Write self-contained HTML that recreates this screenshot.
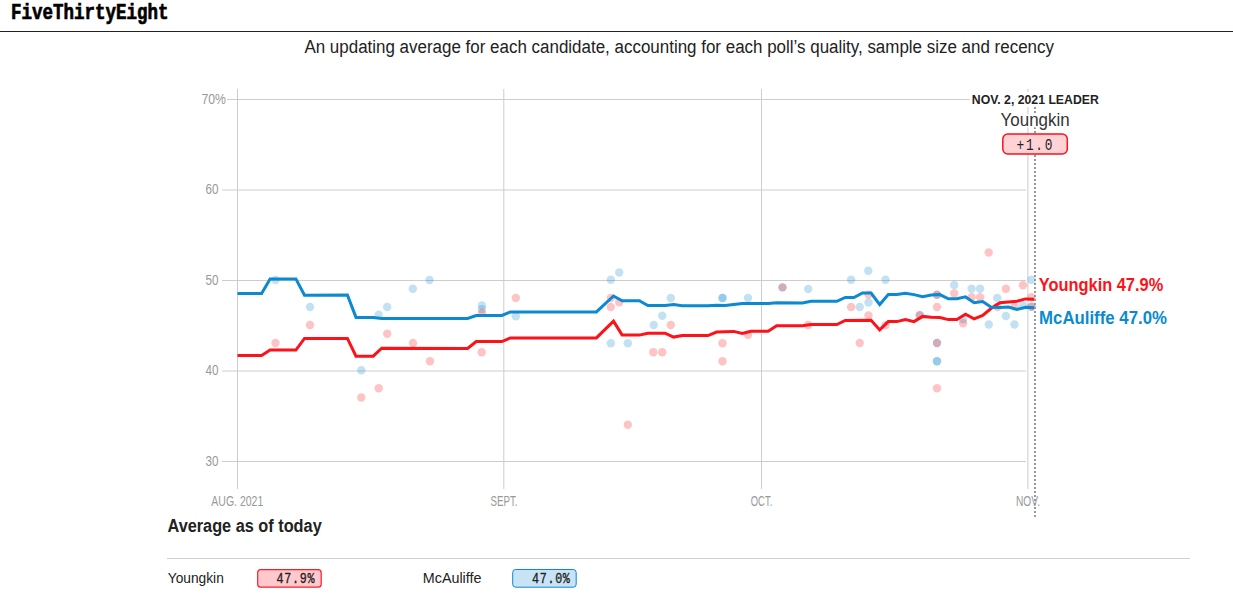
<!DOCTYPE html>
<html><head><meta charset="utf-8"><title>Virginia governor polls</title>
<style>html,body{margin:0;padding:0;background:#fff;width:1233px;height:600px;overflow:hidden;position:relative;font-family:"Liberation Sans",sans-serif}</style>
</head><body>
<svg width="1233" height="600" viewBox="0 0 1233 600" style="position:absolute;left:0;top:0">
<text x="11" y="19" font-family="Liberation Mono" font-weight="bold" font-size="22" fill="#000" stroke="#000" stroke-width="0.7" textLength="157.5" lengthAdjust="spacingAndGlyphs">FiveThirtyEight</text>
<rect x="0" y="31" width="1233" height="1" fill="#222"/>
<text x="304.4" y="53" font-family="Liberation Sans" font-size="18" fill="#222" textLength="749.6" lengthAdjust="spacingAndGlyphs">An updating average for each candidate, accounting for each poll’s quality, sample size and recency</text>
<line x1="227" y1="99.5" x2="1026" y2="99.5" stroke="#cdcdcd" stroke-width="1"/><line x1="222" y1="190" x2="1026" y2="190" stroke="#cdcdcd" stroke-width="1"/><line x1="222" y1="280.5" x2="1026" y2="280.5" stroke="#cdcdcd" stroke-width="1"/><line x1="222" y1="371" x2="1026" y2="371" stroke="#cdcdcd" stroke-width="1"/><line x1="222" y1="461.5" x2="1026" y2="461.5" stroke="#cdcdcd" stroke-width="1"/><line x1="237.5" y1="89" x2="237.5" y2="489" stroke="#cdcdcd" stroke-width="1"/><line x1="503.8" y1="89" x2="503.8" y2="489" stroke="#cdcdcd" stroke-width="1"/><line x1="761.5" y1="89" x2="761.5" y2="489" stroke="#cdcdcd" stroke-width="1"/><line x1="1027.9" y1="89" x2="1027.9" y2="489" stroke="#cdcdcd" stroke-width="1"/>
<text x="226" y="104" text-anchor="end" font-family="Liberation Sans" fill="#999" font-size="14.5" textLength="24.5" lengthAdjust="spacingAndGlyphs">70%</text><text x="218.5" y="194" text-anchor="end" font-family="Liberation Sans" fill="#999" font-size="14.5" textLength="13" lengthAdjust="spacingAndGlyphs">60</text><text x="218.5" y="284.5" text-anchor="end" font-family="Liberation Sans" fill="#999" font-size="14.5" textLength="13" lengthAdjust="spacingAndGlyphs">50</text><text x="218.5" y="375" text-anchor="end" font-family="Liberation Sans" fill="#999" font-size="14.5" textLength="13" lengthAdjust="spacingAndGlyphs">40</text><text x="218.5" y="465.5" text-anchor="end" font-family="Liberation Sans" fill="#999" font-size="14.5" textLength="13" lengthAdjust="spacingAndGlyphs">30</text>
<text x="237.3" y="506" text-anchor="middle" font-family="Liberation Sans" fill="#999" font-size="14.5" textLength="52" lengthAdjust="spacingAndGlyphs">AUG. 2021</text><text x="504" y="506" text-anchor="middle" font-family="Liberation Sans" fill="#999" font-size="14.5" textLength="27" lengthAdjust="spacingAndGlyphs">SEPT.</text><text x="761.5" y="506" text-anchor="middle" font-family="Liberation Sans" fill="#999" font-size="14.5" textLength="21.5" lengthAdjust="spacingAndGlyphs">OCT.</text><text x="1028" y="506" text-anchor="middle" font-family="Liberation Sans" fill="#999" font-size="14.5" textLength="24" lengthAdjust="spacingAndGlyphs">NOV.</text>
<circle cx="275.5" cy="280" r="4.2" fill="#0b89d1" fill-opacity="0.25"/><circle cx="310" cy="307" r="4.2" fill="#0b89d1" fill-opacity="0.25"/><circle cx="361.3" cy="370.3" r="4.2" fill="#0b89d1" fill-opacity="0.25"/><circle cx="378.7" cy="314.7" r="4.2" fill="#0b89d1" fill-opacity="0.25"/><circle cx="387.2" cy="307" r="4.2" fill="#0b89d1" fill-opacity="0.25"/><circle cx="412.8" cy="288.7" r="4.2" fill="#0b89d1" fill-opacity="0.25"/><circle cx="429.5" cy="280" r="4.2" fill="#0b89d1" fill-opacity="0.25"/><circle cx="481.9" cy="305.5" r="4.2" fill="#0b89d1" fill-opacity="0.25"/><circle cx="481.9" cy="309.2" r="4.2" fill="#0b89d1" fill-opacity="0.25"/><circle cx="515.8" cy="316.2" r="4.2" fill="#0b89d1" fill-opacity="0.25"/><circle cx="610.8" cy="279.7" r="4.2" fill="#0b89d1" fill-opacity="0.25"/><circle cx="619.2" cy="272.5" r="4.2" fill="#0b89d1" fill-opacity="0.25"/><circle cx="610.8" cy="343.3" r="4.2" fill="#0b89d1" fill-opacity="0.25"/><circle cx="627.8" cy="343.3" r="4.2" fill="#0b89d1" fill-opacity="0.25"/><circle cx="653.7" cy="325" r="4.2" fill="#0b89d1" fill-opacity="0.25"/><circle cx="662.2" cy="315.8" r="4.2" fill="#0b89d1" fill-opacity="0.25"/><circle cx="670.8" cy="298" r="4.2" fill="#0b89d1" fill-opacity="0.25"/><circle cx="722.5" cy="298" r="4.2" fill="#0b89d1" fill-opacity="0.25"/><circle cx="722.5" cy="298" r="4.2" fill="#0b89d1" fill-opacity="0.25"/><circle cx="748" cy="298" r="4.2" fill="#0b89d1" fill-opacity="0.25"/><circle cx="808.2" cy="289" r="4.2" fill="#0b89d1" fill-opacity="0.25"/><circle cx="851.1" cy="279.7" r="4.2" fill="#0b89d1" fill-opacity="0.25"/><circle cx="868.3" cy="270.8" r="4.2" fill="#0b89d1" fill-opacity="0.25"/><circle cx="885.5" cy="279.7" r="4.2" fill="#0b89d1" fill-opacity="0.25"/><circle cx="859.7" cy="307" r="4.2" fill="#0b89d1" fill-opacity="0.25"/><circle cx="868.5" cy="302.5" r="4.2" fill="#0b89d1" fill-opacity="0.25"/><circle cx="782.5" cy="287.4" r="4.2" fill="#0b89d1" fill-opacity="0.25"/><circle cx="937" cy="294.8" r="4.2" fill="#0b89d1" fill-opacity="0.25"/><circle cx="919.8" cy="315.2" r="4.2" fill="#0b89d1" fill-opacity="0.25"/><circle cx="937" cy="343" r="4.2" fill="#0b89d1" fill-opacity="0.25"/><circle cx="937" cy="361.2" r="4.2" fill="#0b89d1" fill-opacity="0.25"/><circle cx="937" cy="361.2" r="4.2" fill="#0b89d1" fill-opacity="0.25"/><circle cx="954.2" cy="285" r="4.2" fill="#0b89d1" fill-opacity="0.25"/><circle cx="963.1" cy="319.4" r="4.2" fill="#0b89d1" fill-opacity="0.25"/><circle cx="971.6" cy="288.8" r="4.2" fill="#0b89d1" fill-opacity="0.25"/><circle cx="980.1" cy="288.8" r="4.2" fill="#0b89d1" fill-opacity="0.25"/><circle cx="988.8" cy="324.5" r="4.2" fill="#0b89d1" fill-opacity="0.25"/><circle cx="997.3" cy="297.9" r="4.2" fill="#0b89d1" fill-opacity="0.25"/><circle cx="1005.9" cy="316" r="4.2" fill="#0b89d1" fill-opacity="0.25"/><circle cx="1014.5" cy="324.5" r="4.2" fill="#0b89d1" fill-opacity="0.25"/><circle cx="1023" cy="305.3" r="4.2" fill="#0b89d1" fill-opacity="0.25"/><circle cx="1031.5" cy="279.8" r="4.2" fill="#0b89d1" fill-opacity="0.25"/><circle cx="1031.5" cy="306.8" r="4.2" fill="#0b89d1" fill-opacity="0.25"/><circle cx="275.5" cy="343" r="4.2" fill="#fd1219" fill-opacity="0.25"/><circle cx="310" cy="325" r="4.2" fill="#fd1219" fill-opacity="0.25"/><circle cx="361.3" cy="397.5" r="4.2" fill="#fd1219" fill-opacity="0.25"/><circle cx="378.7" cy="388.3" r="4.2" fill="#fd1219" fill-opacity="0.25"/><circle cx="387.2" cy="333.8" r="4.2" fill="#fd1219" fill-opacity="0.25"/><circle cx="413" cy="343" r="4.2" fill="#fd1219" fill-opacity="0.25"/><circle cx="430" cy="361.3" r="4.2" fill="#fd1219" fill-opacity="0.25"/><circle cx="481.9" cy="313" r="4.2" fill="#fd1219" fill-opacity="0.25"/><circle cx="481.7" cy="352.2" r="4.2" fill="#fd1219" fill-opacity="0.25"/><circle cx="515.8" cy="298" r="4.2" fill="#fd1219" fill-opacity="0.25"/><circle cx="610.8" cy="298" r="4.2" fill="#fd1219" fill-opacity="0.25"/><circle cx="619.2" cy="302.2" r="4.2" fill="#fd1219" fill-opacity="0.25"/><circle cx="610.8" cy="307" r="4.2" fill="#fd1219" fill-opacity="0.25"/><circle cx="627.8" cy="424.7" r="4.2" fill="#fd1219" fill-opacity="0.25"/><circle cx="653.3" cy="352.2" r="4.2" fill="#fd1219" fill-opacity="0.25"/><circle cx="662.2" cy="352.2" r="4.2" fill="#fd1219" fill-opacity="0.25"/><circle cx="670.8" cy="325" r="4.2" fill="#fd1219" fill-opacity="0.25"/><circle cx="722.5" cy="343.3" r="4.2" fill="#fd1219" fill-opacity="0.25"/><circle cx="722.5" cy="361.3" r="4.2" fill="#fd1219" fill-opacity="0.25"/><circle cx="748" cy="334.8" r="4.2" fill="#fd1219" fill-opacity="0.25"/><circle cx="782.5" cy="287.4" r="4.2" fill="#fd1219" fill-opacity="0.25"/><circle cx="808.2" cy="325" r="4.2" fill="#fd1219" fill-opacity="0.25"/><circle cx="851.1" cy="307" r="4.2" fill="#fd1219" fill-opacity="0.25"/><circle cx="859.7" cy="343" r="4.2" fill="#fd1219" fill-opacity="0.25"/><circle cx="868.5" cy="294.6" r="4.2" fill="#fd1219" fill-opacity="0.25"/><circle cx="868.5" cy="315.5" r="4.2" fill="#fd1219" fill-opacity="0.25"/><circle cx="885.6" cy="325.2" r="4.2" fill="#fd1219" fill-opacity="0.25"/><circle cx="919.8" cy="315.2" r="4.2" fill="#fd1219" fill-opacity="0.25"/><circle cx="937" cy="294.8" r="4.2" fill="#fd1219" fill-opacity="0.25"/><circle cx="937" cy="307" r="4.2" fill="#fd1219" fill-opacity="0.25"/><circle cx="937" cy="343" r="4.2" fill="#fd1219" fill-opacity="0.25"/><circle cx="937" cy="388.3" r="4.2" fill="#fd1219" fill-opacity="0.25"/><circle cx="954.2" cy="293.4" r="4.2" fill="#fd1219" fill-opacity="0.25"/><circle cx="963.1" cy="323.2" r="4.2" fill="#fd1219" fill-opacity="0.25"/><circle cx="971.6" cy="297.3" r="4.2" fill="#fd1219" fill-opacity="0.25"/><circle cx="980.1" cy="297.3" r="4.2" fill="#fd1219" fill-opacity="0.25"/><circle cx="988.7" cy="252.5" r="4.2" fill="#fd1219" fill-opacity="0.25"/><circle cx="997.3" cy="307" r="4.2" fill="#fd1219" fill-opacity="0.25"/><circle cx="1005.9" cy="288.8" r="4.2" fill="#fd1219" fill-opacity="0.25"/><circle cx="1014.5" cy="306.6" r="4.2" fill="#fd1219" fill-opacity="0.25"/><circle cx="1023" cy="285.2" r="4.2" fill="#fd1219" fill-opacity="0.25"/><circle cx="1031.5" cy="297.3" r="4.2" fill="#fd1219" fill-opacity="0.25"/><circle cx="1031.5" cy="306.8" r="4.2" fill="#fd1219" fill-opacity="0.25"/>
<polyline points="237.5,355.5 261.6,355.5 270.1,350.1 295.9,350.1 304.5,338.4 347.4,338.4 356.0,356.2 373.2,356.2 381.7,348.2 467.6,348.4 476.2,341.6 501.9,341.6 510.5,337.9 596.4,337.9 613.5,321.2 622.1,334.9 639.3,335.1 647.9,333.2 665.1,333.2 673.6,337.1 682.2,335.6 708.0,335.6 716.6,332.0 733.7,331.4 742.3,333.4 750.9,331.2 768.1,331.2 776.7,325.7 802.4,325.8 811.0,324.5 836.8,324.5 845.3,320.5 871.1,320.2 879.7,329.9 888.3,321.6 896.8,321.6 905.4,319.6 914.0,321.6 922.6,316.4 931.2,317.2 939.8,317.6 948.4,319.6 956.9,319.6 965.5,314.2 974.1,318.9 982.7,315.5 991.3,308.3 999.9,302.8 1008.5,301.9 1017.0,301.2 1025.6,298.9 1034.2,299.2" fill="none" stroke="#fd1219" stroke-width="3" stroke-linejoin="miter" stroke-miterlimit="10"/>
<polyline points="237.5,293.6 261.6,293.6 270.1,278.9 295.9,278.9 304.5,295.2 347.4,294.9 356.0,317.4 373.2,317.4 381.7,318.5 467.6,318.5 476.2,315.5 501.9,315.5 510.5,311.9 596.4,311.9 613.5,296.0 622.1,300.7 639.3,300.7 647.9,305.5 665.1,305.5 673.6,304.5 682.2,305.7 708.0,305.7 716.6,305.3 725.1,305.4 742.3,303.4 768.1,303.4 776.7,302.7 802.4,302.9 811.0,301.3 836.8,301.3 845.3,297.5 853.9,297.5 862.5,293.0 871.1,293.0 879.7,304.6 888.3,294.6 896.8,294.6 905.4,293.2 914.0,294.6 922.6,296.8 931.2,295.0 939.8,294.6 948.4,298.8 956.9,298.8 965.5,296.9 974.1,302.7 982.7,301.5 991.3,307.2 999.9,307.5 1008.5,307.0 1017.0,309.5 1025.6,307.2 1034.2,307.7" fill="none" stroke="#0b89d1" stroke-width="3" stroke-linejoin="miter" stroke-miterlimit="10"/>
<path d="M1035 107V114M1035 127V134M1035 155V518" stroke="#999" stroke-width="2" stroke-dasharray="2 2"/>
<text x="971.8" y="103.8" font-family="Liberation Sans" font-weight="bold" font-size="12.3" fill="#222" stroke="#fff" stroke-width="6" stroke-linejoin="round" paint-order="stroke" textLength="127" lengthAdjust="spacingAndGlyphs">NOV. 2, 2021 LEADER</text>
<text x="1000.6" y="126" font-family="Liberation Sans" font-size="17.5" fill="#333" stroke="#fff" stroke-width="3" paint-order="stroke" textLength="69" lengthAdjust="spacingAndGlyphs">Youngkin</text>
<rect x="1002.8" y="134" width="64.5" height="20" rx="5" fill="#ffd3d6" stroke="#fd1219" stroke-width="1.5"/>
<g transform="translate(1016.5,150.1) scale(0.8,1)"><text x="0" y="0" font-family="Liberation Mono" font-size="16" fill="#222" textLength="45" lengthAdjust="spacing">+1.0</text></g>
<text x="1038.8" y="291" font-family="Liberation Sans" font-weight="bold" font-size="18" fill="#fd1219" textLength="124.4" lengthAdjust="spacingAndGlyphs">Youngkin 47.9%</text>
<text x="1039.1" y="323.5" font-family="Liberation Sans" font-weight="bold" font-size="18" fill="#0b89d1" textLength="127.8" lengthAdjust="spacingAndGlyphs">McAuliffe 47.0%</text>
<text x="167.5" y="532" font-family="Liberation Sans" font-weight="bold" font-size="17.6" fill="#222" textLength="154.2" lengthAdjust="spacingAndGlyphs">Average as of today</text>
<rect x="167" y="558" width="1023" height="1" fill="#cfcfcf"/>
<text x="167.8" y="583" font-family="Liberation Sans" font-size="14.5" fill="#222" textLength="56" lengthAdjust="spacingAndGlyphs">Youngkin</text>
<rect x="257.7" y="569.7" width="63.5" height="17.5" rx="3" fill="#ffc9cd" stroke="#ff1a2a" stroke-width="1.2"/>
<g transform="translate(314.5,583) scale(0.78,1)"><text x="0" y="0" text-anchor="end" font-family="Liberation Mono" font-size="15" fill="#222" stroke="#222" stroke-width="0.35" textLength="48.7" lengthAdjust="spacing">47.9%</text></g>
<text x="422.8" y="583.3" font-family="Liberation Sans" font-size="14.5" fill="#222" textLength="58.7" lengthAdjust="spacingAndGlyphs">McAuliffe</text>
<rect x="512.7" y="569.5" width="63.5" height="17.7" rx="3" fill="#c8e3f5" stroke="#0b89d1" stroke-width="1"/>
<g transform="translate(569.9,583) scale(0.78,1)"><text x="0" y="0" text-anchor="end" font-family="Liberation Mono" font-size="15" fill="#222" stroke="#222" stroke-width="0.35" textLength="48.7" lengthAdjust="spacing">47.0%</text></g>
</svg>
</body></html>
